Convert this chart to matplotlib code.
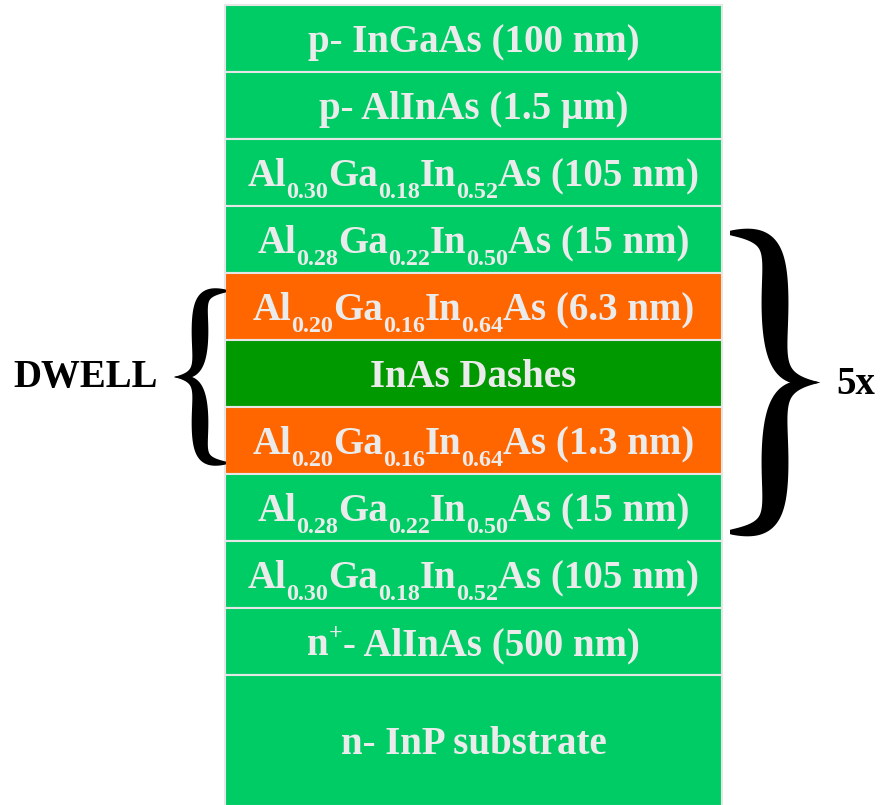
import re
import numpy as np
import matplotlib
matplotlib.use("Agg")
import matplotlib.pyplot as plt
from matplotlib.patches import Rectangle, Polygon

plt.rcParams['font.family'] = ['Liberation Serif', 'DejaVu Serif']

# layer stack, top to bottom ($_{..}$ = subscript, $^{..}$ = superscript)
layer_labels = [
    "p- InGaAs (100 nm)",
    "p- AlInAs (1.5 \u00b5m)",
    "Al$_{0.30}$Ga$_{0.18}$In$_{0.52}$As (105 nm)",
    "Al$_{0.28}$Ga$_{0.22}$In$_{0.50}$As (15 nm)",
    "Al$_{0.20}$Ga$_{0.16}$In$_{0.64}$As (6.3 nm)",
    "InAs Dashes",
    "Al$_{0.20}$Ga$_{0.16}$In$_{0.64}$As (1.3 nm)",
    "Al$_{0.28}$Ga$_{0.22}$In$_{0.50}$As (15 nm)",
    "Al$_{0.30}$Ga$_{0.18}$In$_{0.52}$As (105 nm)",
    "n$^{+}$- AlInAs (500 nm)",
    "n- InP substrate",
]
layer_kinds = ["bulk", "bulk", "bulk", "bulk", "well", "dash", "well",
               "bulk", "bulk", "bulk", "bulk"]
layer_rows = [1, 1, 1, 1, 1, 1, 1, 1, 1, 1, 1.95]

dwell_span = (4, 6)      # first / last layer under the DWELL brace
repeat_span = (3, 7)     # layers repeated 5x
repeat_label = "5x"
dwell_label = "DWELL"

kind_colors = {"bulk": "#00cc66", "well": "#ff6600", "dash": "#009900"}
text_color = "#ebebeb"
edge_color = "#e6e6e6"

fig = plt.figure(figsize=(8.8, 8.05), dpi=100)
ax = fig.add_axes([0, 0, 1, 1])
ax.set_xlim(0, 880)
ax.set_ylim(805, 0)
ax.axis('off')
renderer = fig.canvas.get_renderer()

left, right = 225, 722
top, row_h = 5, 67
fs = 28
em = fs * 100 / 72  # font size in pixels


def rich_text(xc, base, label):
    # split label into (text, kind) pieces and lay them out by hand
    pieces = []
    for tok in re.split(r"(\$[_^]\{.*?\}\$)", label):
        if not tok:
            continue
        if tok.startswith("$_"):
            pieces.append((tok[3:-2], "sub"))
        elif tok.startswith("$^"):
            pieces.append((tok[3:-2], "sup"))
        else:
            pieces.append((tok, "norm"))
    arts, widths = [], []
    for s, kind in pieces:
        size = fs if kind == "norm" else fs * 0.62
        t = ax.text(0, base, s, fontsize=size, fontweight='bold', color=text_color,
                    ha='left', va='baseline')
        if kind == "sub":
            t.set_y(base + 0.3 * em)
        elif kind == "sup":
            t.set_y(base - 0.4 * em)
        arts.append(t)
        widths.append(t.get_window_extent(renderer).width)
    x = xc - sum(widths) / 2
    for t, w in zip(arts, widths):
        t.set_x(x)
        x += w


tops = []
y = top
for label, kind, rows in zip(layer_labels, layer_kinds, layer_rows):
    h = rows * row_h
    tops.append(y)
    ax.add_patch(Rectangle((left, y), right - left, h, facecolor=kind_colors[kind],
                           edgecolor=edge_color, linewidth=1.5))
    rich_text((left + right) / 2, y + h / 2 + 13.5, label)
    y += h


def bezier(p0, p1, p2, p3, n=60):
    t = np.linspace(0, 1, n)[:, None]
    p0, p1, p2, p3 = map(np.asarray, (p0, p1, p2, p3))
    return ((1 - t) ** 3) * p0 + 3 * ((1 - t) ** 2) * t * p1 + 3 * (1 - t) * t ** 2 * p2 + t ** 3 * p3


def brace(x_out, x_tip, y0, y1, wmax):
    ym = (y0 + y1) / 2
    xv = (x_out + x_tip) / 2
    for ya in (y0, y1):
        hh = ym - ya
        a = bezier((x_out, ya), (xv, ya), (xv, ya + 0.12 * hh), (xv, ya + 0.45 * hh))
        b = bezier((xv, ya + 0.45 * hh), (xv, ya + 0.85 * hh), (xv, ym), (x_tip, ym))
        c = np.vstack([a, b[1:]])
        seg = np.hypot(*np.diff(c, axis=0).T)
        s = np.clip(np.concatenate([[0], np.cumsum(seg)]) / seg.sum(), 0, 1)
        w = wmax * (0.15 * (1 - s) + 0.85 * np.clip(np.sin(np.pi * s), 0, 1) ** 0.9)
        d = np.gradient(c, axis=0)
        d /= np.hypot(d[:, 0], d[:, 1])[:, None]
        nrm = np.column_stack([-d[:, 1], d[:, 0]])
        pts = np.vstack([c + nrm * w[:, None] / 2, (c - nrm * w[:, None] / 2)[::-1]])
        ax.add_patch(Polygon(pts, closed=True, facecolor='black', edgecolor='none'))


# DWELL brace on the left
d0 = tops[dwell_span[0]] + 18
d1 = tops[dwell_span[1]] + row_h - 11
brace(226, 174, d0, d1, 18)
ax.text(158, (d0 + d1) / 2 + 10, dwell_label, ha='right', va='baseline',
        fontsize=28, fontweight='bold', color='black')

# 5x brace on the right
r0 = tops[repeat_span[0]] + 27
r1 = tops[repeat_span[1]] + row_h - 9
brace(730, 820, r0, r1, 29)
ax.text(836, (r0 + r1) / 2 + 11, repeat_label, ha='left', va='baseline',
        fontsize=28, fontweight='bold', color='black')

fig.savefig("out.png", dpi=100, facecolor='white')
